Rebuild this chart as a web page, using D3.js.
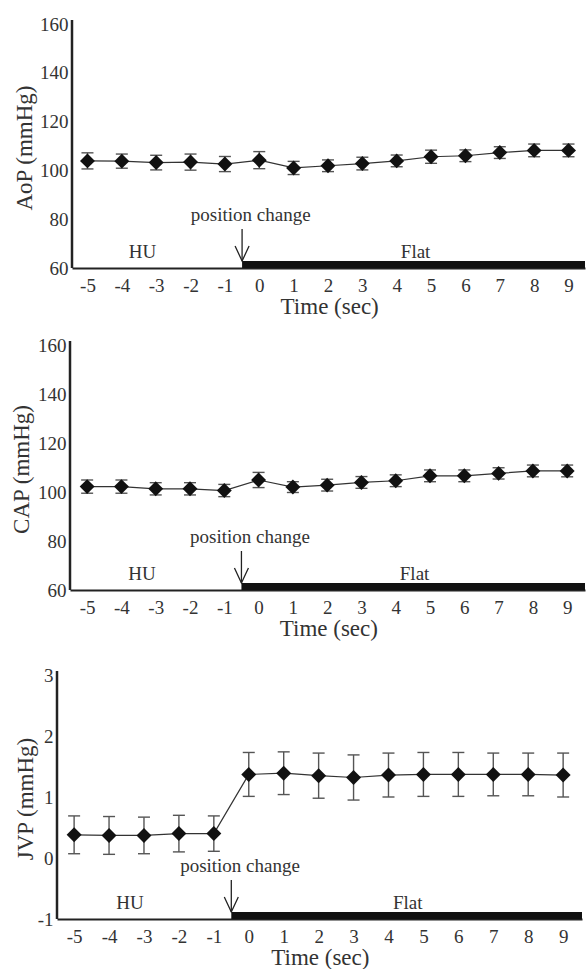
<!DOCTYPE html>
<html>
<head>
<meta charset="utf-8">
<script src="https://cdn.jsdelivr.net/npm/d3@7"></script>
<style>
  body { margin: 0; background: #fff; }
  svg text { font-family: "Liberation Serif", "Times New Roman", serif; fill: #333; }
</style>
</head>
<body>
<script>
// time points (sec)
const times = [-5, -4, -3, -2, -1, 0, 1, 2, 3, 4, 5, 6, 7, 8, 9];

// aortic pressure
const aopMean = [103.9, 103.8, 103.2, 103.4, 102.6, 104.2, 101.0, 101.9, 102.8, 103.9, 105.6, 106.0, 107.3, 108.2, 108.2];
const aopErr  = [3.3, 2.9, 3.0, 3.3, 3.1, 3.5, 2.7, 2.4, 2.6, 2.4, 2.7, 2.4, 2.4, 2.6, 2.6];

// carotid pressure
const capMean = [102.2, 102.2, 101.3, 101.3, 100.6, 104.9, 102.0, 102.8, 103.9, 104.6, 106.6, 106.6, 107.6, 108.6, 108.6];
const capErr  = [2.7, 2.7, 2.5, 2.5, 2.5, 3.1, 2.2, 2.4, 2.4, 2.4, 2.4, 2.4, 2.3, 2.4, 2.4];

// jugular venous pressure
const jvpMean = [0.38, 0.37, 0.37, 0.40, 0.40, 1.37, 1.39, 1.35, 1.32, 1.36, 1.37, 1.37, 1.37, 1.37, 1.36];
const jvpErr  = [0.31, 0.31, 0.30, 0.30, 0.29, 0.36, 0.35, 0.37, 0.37, 0.36, 0.36, 0.36, 0.35, 0.35, 0.36];

const pressureTicks = [60, 80, 100, 120, 140, 160];
const jvpTicks = [-1, 0, 1, 2, 3];

const phaseLabels = ["HU", "Flat"];
const phasePos = [-3.4, 4.55];
const changeTime = -0.5;
const changeLabel = "position change";
const xTitle = "Time (sec)";

const panels = [
  { label: "AoP (mmHg)", mean: aopMean, err: aopErr, ticks: pressureTicks,
    top: 24, bottom: 268, left: 72, right: 585, xDomain: [-5.45, 9.48], titleX: 32 },
  { label: "CAP (mmHg)", mean: capMean, err: capErr, ticks: pressureTicks,
    top: 345, bottom: 590, left: 70, right: 585, xDomain: [-5.5, 9.52], titleX: 29 },
  { label: "JVP (mmHg)", mean: jvpMean, err: jvpErr, ticks: jvpTicks,
    top: 675, bottom: 919, left: 57, right: 582, xDomain: [-5.49, 9.54], titleX: 33 }
];

const serif = '"Liberation Serif", "Times New Roman", serif';
const tickFmt = d => String(d);   // plain hyphen minus, like the original

const svg = d3.select("body").append("svg")
  .attr("width", 586)
  .attr("height", 969);

function drawPanel(p) {
  const x = d3.scaleLinear().domain(p.xDomain).range([p.left, p.right]);
  const y = d3.scaleLinear()
    .domain([p.ticks[0], p.ticks[p.ticks.length - 1]])
    .range([p.bottom, p.top]);

  const g = svg.append("g");

  // y axis
  const yAxis = g.append("g")
    .attr("transform", `translate(${p.left},0)`)
    .call(d3.axisLeft(y).tickValues(p.ticks).tickFormat(tickFmt).tickSize(0).tickPadding(3.5));
  yAxis.select(".domain").remove();
  yAxis.selectAll("text")
    .style("font-family", serif)
    .style("font-size", "19px")
    .style("fill", "#333");
  g.append("line")
    .attr("x1", p.left).attr("x2", p.left)
    .attr("y1", p.bottom).attr("y2", p.top - 4)
    .attr("stroke", "#222").attr("stroke-width", 2.5);

  // x axis
  const xAxis = g.append("g")
    .attr("transform", `translate(0,${p.bottom})`)
    .call(d3.axisBottom(x).tickValues(times).tickFormat(tickFmt).tickSize(0).tickPadding(10.5));
  xAxis.select(".domain")
    .attr("stroke", "#222").attr("stroke-width", 2);
  xAxis.selectAll("text")
    .style("font-family", serif)
    .style("font-size", "19px")
    .style("fill", "#333");

  // axis titles
  g.append("text")
    .attr("transform", `translate(${p.titleX},${(p.top + p.bottom) / 2 + 2}) rotate(-90)`)
    .attr("text-anchor", "middle")
    .style("font-size", "23px")
    .text(p.label);

  g.append("text")
    .attr("x", x(2.05))
    .attr("y", p.bottom + 46)
    .attr("text-anchor", "middle")
    .style("font-size", "23px")
    .text(xTitle);

  // flat phase bar
  g.append("rect")
    .attr("x", x(changeTime))
    .attr("y", p.bottom - 7)
    .attr("width", p.right - x(changeTime))
    .attr("height", 7)
    .attr("fill", "#111");

  // phase labels
  g.selectAll(".phase")
    .data(phaseLabels)
    .enter()
    .append("text")
      .attr("class", "phase")
      .attr("x", (d, i) => x(phasePos[i]))
      .attr("y", p.bottom - 10)
      .attr("text-anchor", "middle")
      .style("font-size", "19px")
      .text(d => d);

  // position change arrow
  const ax = x(changeTime);
  const tip = p.bottom - 7;
  g.append("text")
    .attr("x", x(-0.25))
    .attr("y", p.bottom - 47)
    .attr("text-anchor", "middle")
    .style("font-size", "19px")
    .text(changeLabel);
  g.append("line")
    .attr("x1", ax).attr("x2", ax)
    .attr("y1", p.bottom - 39).attr("y2", tip)
    .attr("stroke", "#222").attr("stroke-width", 1.3);
  g.append("path")
    .attr("d", `M${ax - 7},${tip - 15} L${ax},${tip} L${ax + 7},${tip - 15}`)
    .attr("fill", "none")
    .attr("stroke", "#222")
    .attr("stroke-width", 1.3);

  const pts = times.map((t, i) => ({ t: t, v: p.mean[i], e: p.err[i] }));

  // error bars
  const eb = g.append("g")
    .attr("stroke", "#555")
    .attr("stroke-width", 1.4);
  eb.selectAll(".stem")
    .data(pts)
    .enter()
    .append("line")
      .attr("x1", d => x(d.t)).attr("x2", d => x(d.t))
      .attr("y1", d => y(d.v - d.e)).attr("y2", d => y(d.v + d.e));
  [-1, 1].forEach(s => {
    eb.selectAll(".cap" + s)
      .data(pts)
      .enter()
      .append("line")
        .attr("x1", d => x(d.t) - 6).attr("x2", d => x(d.t) + 6)
        .attr("y1", d => y(d.v + s * d.e)).attr("y2", d => y(d.v + s * d.e));
  });

  // mean line
  g.append("path")
    .datum(pts)
    .attr("fill", "none")
    .attr("stroke", "#333")
    .attr("stroke-width", 1.2)
    .attr("d", d3.line().x(d => x(d.t)).y(d => y(d.v)));

  // diamond markers
  g.selectAll(".marker")
    .data(pts)
    .enter()
    .append("path")
      .attr("class", "marker")
      .attr("d", d3.symbol(d3.symbolSquare, 112))
      .attr("transform", d => `translate(${x(d.t)},${y(d.v)}) rotate(45)`)
      .attr("fill", "#111");
}

panels.forEach(drawPanel);
</script>
</body>
</html>
